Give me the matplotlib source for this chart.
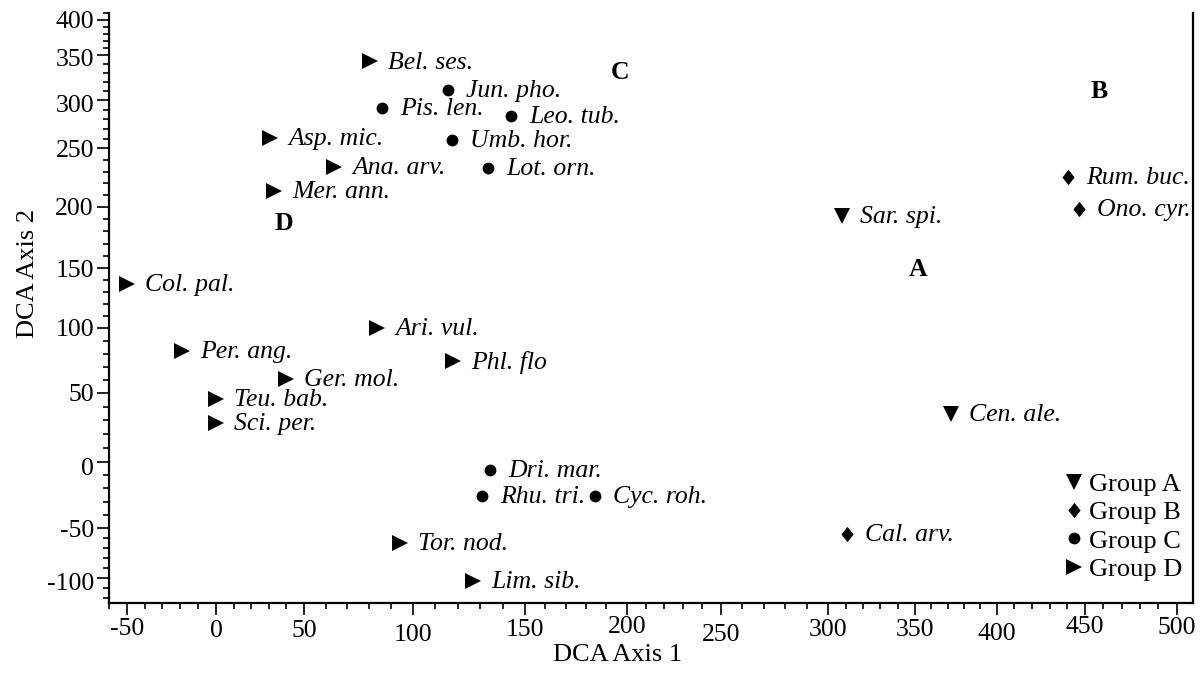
import numpy as np
import matplotlib
matplotlib.use("Agg")
import matplotlib.pyplot as plt
from matplotlib.lines import Line2D
from matplotlib.transforms import ScaledTranslation
from matplotlib.ticker import FixedLocator, FixedFormatter, MultipleLocator

# ---------------- data ----------------
species = ["Bel. ses.", "Jun. pho.", "Pis. len.", "Leo. tub.", "Asp. mic.", "Umb. hor.",
           "Ana. arv.", "Lot. orn.", "Mer. ann.", "Rum. buc.", "Ono. cyr.", "Sar. spi.",
           "Col. pal.", "Ari. vul.", "Per. ang.", "Phl. flo", "Ger. mol.", "Teu. bab.",
           "Sci. per.", "Cen. ale.", "Dri. mar.", "Rhu. tri.", "Cyc. roh.", "Cal. arv.",
           "Tor. nod.", "Lim. sib."]
groups = ["D", "C", "C", "C", "D", "C",
          "D", "C", "D", "B", "B", "A",
          "D", "D", "D", "D", "D", "D",
          "D", "A", "C", "C", "C", "B",
          "D", "D"]
axis1 = [80.4, 115.7, 85.9, 143.8, 30.7, 117.5,
         63.8, 133.5, 33.0, 440.4, 446.6, 307.9,
         -49.8, 83.6, -19.0, 117.9, 39.8, 0.0,
         0.0, 372.0, 134.4, 130.9, 184.4, 310.8,
         94.2, 126.8]
axis2 = [343.0, 311.0, 291.7, 283.4, 260.7, 258.6,
         234.0, 233.1, 213.4, 225.4, 198.1, 192.5,
         136.8, 99.8, 82.1, 74.4, 60.5, 45.4,
         28.0, 34.6, -6.2, -25.8, -25.8, -55.7,
         -64.7, -102.7]

group_names = ["A", "B", "C", "D"]
group_legend = ["Group A", "Group B", "Group C", "Group D"]
letter_x = [351.8, 457.6, 196.7, 38.6]
letter_y = [148.6, 308.9, 331.1, 186.0]

x_ticks = [-50, 0, 50, 100, 150, 200, 250, 300, 350, 400, 450, 500]
y_ticks = [-100, -50, 0, 50, 100, 150, 200, 250, 300, 350, 400]
x_tick_labels = ["-50", "0", "50", "100", "150", "200", "250", "300", "350", "400", "450", "500"]
y_tick_labels = ["-100", "-50", "0", "50", "100", "150", "200", "250", "300", "350", "400"]

# ---------------- axis geometry (irregular, hand-made axes) ----------------
x_knot_val = [-100, -50, 0, 50, 100, 150, 200, 250, 300, 350, 400, 450, 500, 600]
x_knot_pos = [37.4, 126.7, 216, 304, 412.7, 525, 626.7, 720.7, 828.3, 915, 996.7, 1085, 1176.7, 1360]
y_knot_val = [-200, -100, -50, 0, 50, 100, 150, 200, 250, 300, 350, 400, 500]
y_knot_pos = [678.3, 578.3, 528.3, 461.7, 392.7, 327.7, 268.3, 206.7, 148.3, 100, 55, 20, -50]

xv = np.array(x_knot_val, float); xp = np.array(x_knot_pos, float)
yv = np.array(y_knot_val, float); yp = -np.array(y_knot_pos, float)


def fx(v):
    return np.interp(v, xv, xp)


def fx_inv(p):
    return np.interp(p, xp, xv)


def fy(v):
    return np.interp(v, yv, yp)


def fy_inv(p):
    return np.interp(p, yp, yv)


FONT = "Liberation Serif"
plt.rcParams["font.family"] = [FONT, "DejaVu Serif"]

fig = plt.figure(figsize=(12.02, 6.76), dpi=100)
W, H = 1202, 676
left, right, bottom, top = 108.5, 1193, 603.3, 13
ax = fig.add_axes([left / W, 1 - bottom / H, (right - left) / W, (bottom - top) / H])
ax.set_xscale("function", functions=(fx, fx_inv))
ax.set_yscale("function", functions=(fy, fy_inv))
ax.set_xlim(-60.2, 508.9)
ax.set_ylim(-125, 410)

markers = {"A": "v", "B": [(0, 1), (0.8, 0), (0, -1), (-0.8, 0), (0, 1)], "C": "o", "D": ">"}
msizes = {"A": 12, "B": 11, "C": 8.5, "D": 12}

for g in group_names:
    xs = [x for x, gg in zip(axis1, groups) if gg == g]
    ys = [y for y, gg in zip(axis2, groups) if gg == g]
    ax.plot(xs, ys, linestyle="none", marker=markers[g], ms=msizes[g], color="black",
            markeredgewidth=0, clip_on=False)

for name, x, y in zip(species, axis1, axis2):
    ax.annotate(name, (x, y), xytext=(13, -1), textcoords="offset points",
                ha="left", va="center", fontsize=18.5, style="italic", family=FONT)

for lab, x, y in zip(group_names, letter_x, letter_y):
    ax.text(x, y, lab, fontsize=18.5, fontweight="bold", ha="center", va="center", family=FONT)

# legend
handles = [Line2D([], [], linestyle="none", marker=markers[g], ms=msizes[g], color="black",
                  markeredgewidth=0) for g in group_names]
ax.legend(handles, group_legend, loc="lower right", frameon=False,
          handlelength=0.9, handletextpad=0.1, labelspacing=0.18, borderpad=0,
          borderaxespad=0, bbox_to_anchor=(0.990, 0.038), prop={"family": FONT, "size": 19})

# spines
ax.spines["top"].set_visible(False)
for s in ["left", "bottom", "right"]:
    ax.spines[s].set_linewidth(1.6)

ax.xaxis.set_major_locator(FixedLocator(x_ticks))
ax.xaxis.set_major_formatter(FixedFormatter(x_tick_labels))
ax.yaxis.set_major_locator(FixedLocator(y_ticks))
ax.yaxis.set_major_formatter(FixedFormatter(y_tick_labels))
ax.xaxis.set_minor_locator(MultipleLocator(10))
ax.yaxis.set_minor_locator(MultipleLocator(10))
ax.tick_params(which="major", direction="out", length=8.5, width=1.2, labelsize=18.5, pad=2)
ax.tick_params(which="minor", direction="out", length=4.5, width=1.2)
ax.tick_params(axis="both", which="both", top=False, right=False)
for lab in ax.get_xticklabels() + ax.get_yticklabels():
    lab.set_family(FONT)

# irregular tick-label placement as in the original
x_dy = [0, 2, 2, 6, 1, -2, 6, 1, 1, 5, -2, -1]
for lab, dy in zip(ax.xaxis.get_ticklabels(), x_dy):
    lab.set_transform(lab.get_transform() + ScaledTranslation(0, -dy / 100, fig.dpi_scale_trans))
y_dy = [3, 0, 5, 0, 0, 0, 0, 0, 4, 2, 0]
for lab, dy in zip(ax.yaxis.get_ticklabels(), y_dy):
    lab.set_transform(lab.get_transform() + ScaledTranslation(0, -dy / 100, fig.dpi_scale_trans))

ax.set_xlabel("DCA Axis 1", fontsize=19, family=FONT)
ax.set_ylabel("DCA Axis 2", fontsize=19, family=FONT)
ax.xaxis.set_label_coords((618 - left) / (right - left), (bottom - 655) / (bottom - top))
ax.yaxis.set_label_coords((28 - left) / (right - left), (bottom - 273) / (bottom - top))
ax.xaxis.label.set_va("center")
ax.yaxis.label.set_va("center")

fig.savefig("out.png", dpi=100)
